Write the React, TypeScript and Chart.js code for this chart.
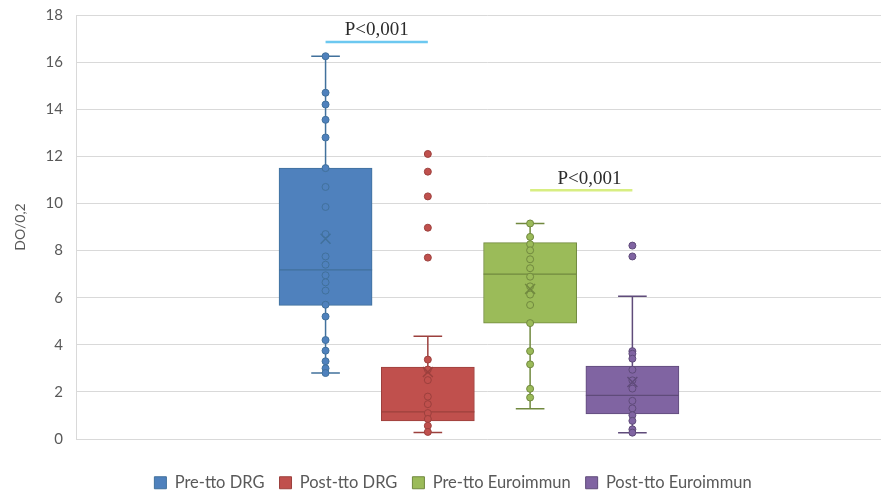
import React, { useEffect, useRef } from 'react';
import { Chart, registerables } from 'chart.js';

Chart.register(...registerables);

// Series (one box per group)
const seriesNames = ['Pre-tto DRG', 'Post-tto DRG', 'Pre-tto Euroimmun', 'Post-tto Euroimmun'];
const seriesX = [1, 2, 3, 4];

// Box-and-whisker statistics per series
const whiskerLow = [2.8, 0.28, 1.28, 0.27];
const quartile1 = [5.67, 0.77, 4.92, 1.06];
const medians = [7.18, 1.15, 7.0, 1.85];
const quartile3 = [11.5, 3.05, 8.34, 3.1];
const whiskerHigh = [16.25, 4.36, 9.15, 6.06];
const means = [8.5, 2.84, 6.37, 2.42];

// Individual observations per series
const preDrgPoints = [16.25, 14.7, 14.2, 13.55, 12.8, 11.5, 10.7, 9.85, 8.7, 7.75, 7.4, 6.95, 6.65, 6.3, 5.7, 5.2, 4.2, 3.75, 3.3, 3.0, 2.8];
const postDrgPoints = [12.1, 11.35, 10.3, 8.97, 7.7, 3.37, 2.95, 2.5, 1.8, 1.48, 1.1, 0.85, 0.56, 0.3];
const preEuroPoints = [9.15, 8.58, 8.27, 8.01, 7.63, 7.25, 6.89, 6.48, 6.13, 5.69, 4.92, 3.73, 3.17, 2.13, 1.76];
const postEuroPoints = [8.21, 7.75, 3.73, 3.62, 3.41, 2.94, 2.49, 2.14, 1.62, 1.3, 1.01, 0.77, 0.41, 0.27];
const seriesPoints = [preDrgPoints, postDrgPoints, preEuroPoints, postEuroPoints];

// Significance brackets
const pLabels = ['P<0,001', 'P<0,001'];
const pLabelX = [1.5, 3.58];
const pLabelY = [17.35, 11.03];
const pLineFrom = [1, 3];
const pLineTo = [2, 4];
const pLineY = [16.85, 10.56];

// Axis
const yMin = 0;
const yMax = 18;
const yStep = 2;
const yTitle = 'DO/0,2';

const fills = ['#4f81bd', '#c0504d', '#9bbb59', '#8064a2'];
const strokes = ['#41719c', '#9c403d', '#71893f', '#5f4b7a'];
const pLineColors = ['#6cc8f0', '#d8ee82'];

const BOX_HALF = 0.455;
const CAP_HALF = 0.14;

const pValueText = {
  id: 'pValueText',
  afterDatasetsDraw(chart: any) {
    const { ctx, scales } = chart;
    const xs = scales.x;
    const ys = scales.y;
    ctx.save();
    ctx.font = '19px "Liberation Serif", "Times New Roman", serif';
    ctx.fillStyle = '#2b2b2b';
    ctx.textAlign = 'center';
    ctx.textBaseline = 'middle';
    pLabels.forEach((t, i) => {
      ctx.fillText(t, xs.getPixelForValue(pLabelX[i]), ys.getPixelForValue(pLabelY[i]));
    });
    ctx.restore();
  },
};

// box width follows the x scale: BOX_HALF on each side of the group position
const boxThickness = (c: any) => {
  const s = c.chart.scales.x;
  if (!s) return undefined;
  return Math.abs(s.getPixelForValue(BOX_HALF) - s.getPixelForValue(-BOX_HALF));
};

function buildDatasets() {
  const datasets: any[] = [];
  // boxes first so that they are the legend entries
  seriesNames.forEach((name, i) => {
    datasets.push({
      type: 'bar',
      label: name,
      data: [{ x: seriesX[i], y: [quartile1[i], quartile3[i]] }],
      backgroundColor: fills[i],
      borderColor: strokes[i],
      borderWidth: 1,
      borderSkipped: false,
      grouped: false,
      barThickness: boxThickness,
      order: 4,
    });
  });
  seriesNames.forEach((name, i) => {
    const x = seriesX[i];
    datasets.push({
      type: 'line',
      label: name + ' whiskers',
      data: [
        { x, y: whiskerLow[i] },
        { x, y: whiskerHigh[i] },
        { x, y: null },
        { x: x - CAP_HALF, y: whiskerLow[i] },
        { x: x + CAP_HALF, y: whiskerLow[i] },
        { x, y: null },
        { x: x - CAP_HALF, y: whiskerHigh[i] },
        { x: x + CAP_HALF, y: whiskerHigh[i] },
      ],
      borderColor: strokes[i],
      borderWidth: 1.5,
      pointRadius: 0,
      spanGaps: false,
      fill: false,
      order: 5,
    });
    datasets.push({
      type: 'line',
      label: name + ' median',
      data: [
        { x: x - BOX_HALF, y: medians[i] },
        { x: x + BOX_HALF, y: medians[i] },
      ],
      borderColor: strokes[i],
      borderWidth: 1.3,
      pointRadius: 0,
      fill: false,
      order: 3,
    });
    datasets.push({
      type: 'scatter',
      label: name + ' points',
      data: seriesPoints[i].map((v) => ({ x, y: v })),
      backgroundColor: fills[i],
      borderColor: strokes[i],
      borderWidth: 1,
      pointRadius: 3.5,
      order: 2,
    });
    datasets.push({
      type: 'scatter',
      label: name + ' mean',
      data: [{ x, y: means[i] }],
      pointStyle: 'crossRot',
      pointRadius: 7,
      backgroundColor: 'rgba(0,0,0,0)',
      borderColor: strokes[i],
      borderWidth: 1.5,
      order: 1,
    });
  });
  pLabels.forEach((_, i) => {
    datasets.push({
      type: 'line',
      label: 'bracket ' + i,
      data: [
        { x: pLineFrom[i], y: pLineY[i] },
        { x: pLineTo[i], y: pLineY[i] },
      ],
      borderColor: pLineColors[i],
      borderWidth: 2.5,
      pointRadius: 0,
      fill: false,
      order: 0,
    });
  });
  return datasets;
}

export default function App() {
  const canvasRef = useRef<HTMLCanvasElement | null>(null);

  useEffect(() => {
    if (!canvasRef.current) return;
    const chart = new Chart(canvasRef.current, {
      type: 'bar',
      data: { datasets: buildDatasets() },
      options: {
        responsive: false,
        animation: false,
        layout: { padding: { top: 6, left: 0, right: 0, bottom: 0 } },
        plugins: {
          tooltip: { enabled: false },
          legend: {
            position: 'bottom',
            labels: {
              filter: (item: any) => item.datasetIndex < seriesNames.length,
              boxWidth: 12,
              boxHeight: 12,
              padding: 15,
              color: '#595959',
              font: { family: 'Lato', size: 16.5 },
            },
          },
        },
        scales: {
          x: {
            type: 'linear',
            min: -1.44,
            max: 6.592,
            offset: false,
            grid: { display: false, offset: false },
            border: { display: false },
            ticks: { display: false },
            afterFit: (s: any) => {
              s.height = 20.5;
            },
          },
          y: {
            min: yMin,
            max: yMax,
            ticks: {
              stepSize: yStep,
              color: '#595959',
              font: { family: 'Lato', size: 15 },
              padding: 13,
            },
            grid: { color: '#d9d9d9', drawTicks: false },
            border: { color: '#d9d9d9' },
            title: {
              display: true,
              text: yTitle,
              color: '#595959',
              font: { family: 'Lato', size: 14 },
              padding: { top: 12, bottom: 0 },
            },
            afterFit: (s: any) => {
              s.width = 76;
            },
          },
        },
      },
      plugins: [pValueText],
    } as any);
    return () => chart.destroy();
  }, []);

  return (
    <div
      style={{
        position: 'fixed',
        left: 0,
        top: 0,
        width: 881,
        height: 495,
        overflow: 'hidden',
        background: '#ffffff',
      }}
    >
      <canvas
        ref={canvasRef}
        width={906}
        height={508}
        style={{ display: 'block', marginTop: -7 }}
      />
    </div>
  );
}
